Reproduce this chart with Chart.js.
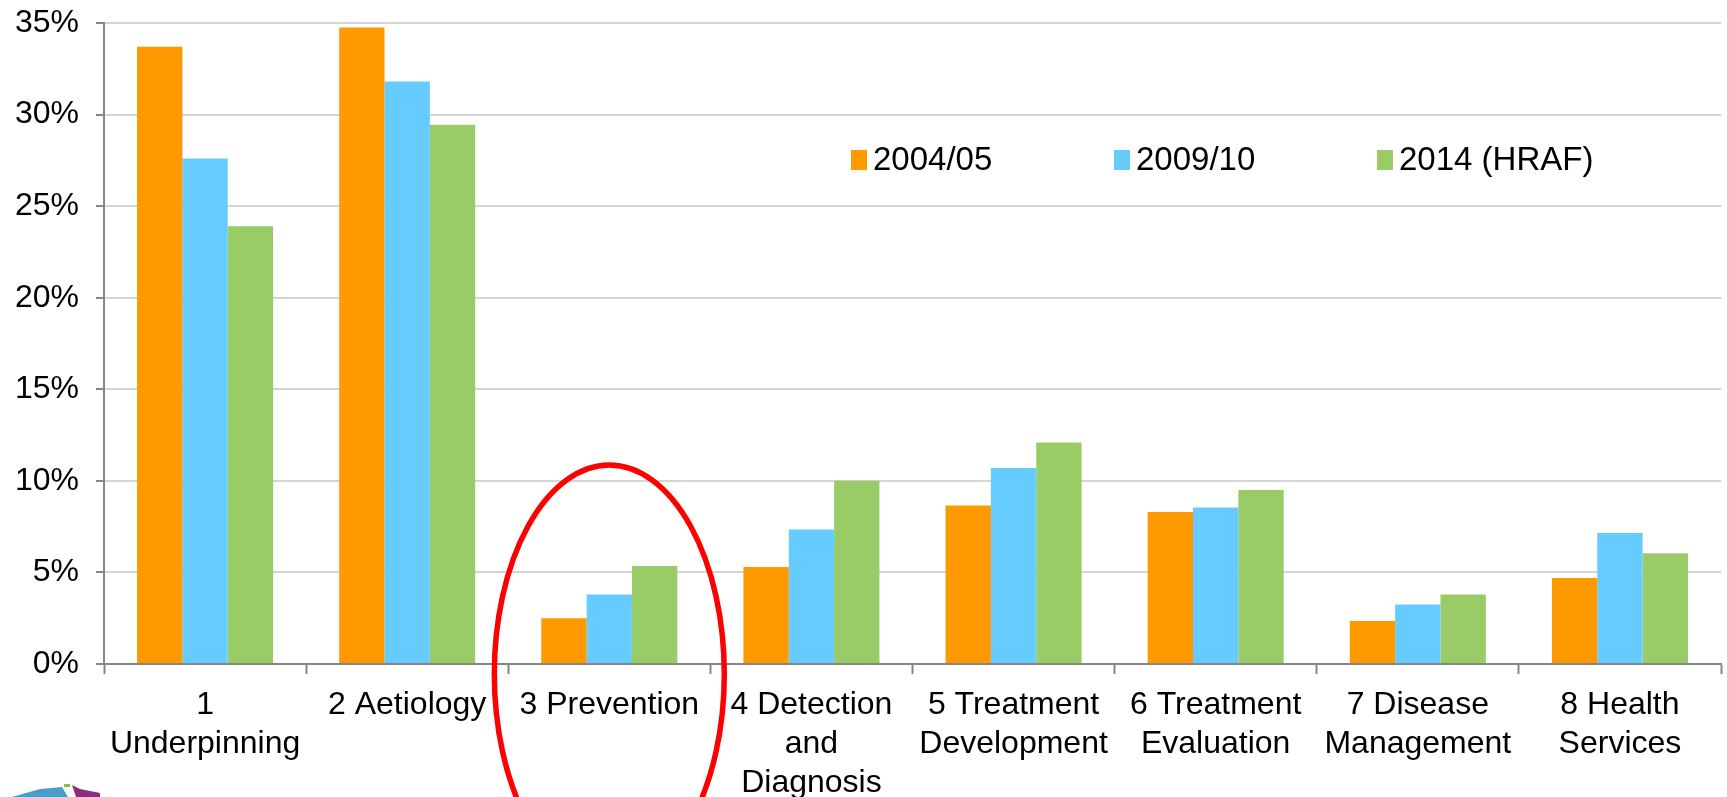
<!DOCTYPE html>
<html>
<head>
<meta charset="utf-8">
<script src="https://cdn.jsdelivr.net/npm/chart.js@4.4.1/dist/chart.umd.min.js"></script>
<style>
  html, body { margin: 0; padding: 0; background: #fff; }
  #wrap { width: 1727px; height: 797px; position: relative; }
</style>
</head>
<body>
<div id="wrap"><canvas id="chart" width="1727" height="797"></canvas></div>
<script>
// categories and series (share of spend, %)
const categories = [
  ["1", "Underpinning"],
  "2 Aetiology",
  "3 Prevention",
  ["4 Detection", "and", "Diagnosis"],
  ["5 Treatment", "Development"],
  ["6 Treatment", "Evaluation"],
  ["7 Disease", "Management"],
  ["8 Health", "Services"]
];
const seriesLabels = ["2004/05", "2009/10", "2014 (HRAF)"];
const values2004 = [33.7, 34.75, 2.5, 5.3, 8.65, 8.3, 2.35, 4.7];
const values2009 = [27.6, 31.8, 3.8, 7.35, 10.7, 8.55, 3.25, 7.15];
const values2014 = [23.9, 29.45, 5.35, 10.0, 12.1, 9.5, 3.8, 6.05];
const yTicks = [0, 5, 10, 15, 20, 25, 30, 35];

const colors = ["#FF9900", "#66CCFF", "#99CC66"];
const fontFamily = "'Liberation Sans', Arial, sans-serif";

// legend drawn inside the plot area, the way the original sits
const insideLegend = {
  id: "insideLegend",
  afterDraw(chart) {
    const ctx = chart.ctx;
    const y = 160;
    const xs = [851, 1114, 1377];
    ctx.save();
    ctx.font = "33px " + fontFamily;
    ctx.textBaseline = "middle";
    chart.data.datasets.forEach((ds, i) => {
      ctx.fillStyle = ds.backgroundColor;
      ctx.fillRect(xs[i], y - 10, 16, 20);
      ctx.fillStyle = "#000";
      ctx.fillText(ds.label, xs[i] + 22, y + 1);
    });
    ctx.restore();
  }
};

// red ring around "3 Prevention" and the bit of logo at the bottom left
const annotations = {
  id: "annotations",
  afterDraw(chart) {
    const ctx = chart.ctx;
    const x = chart.scales.x;
    const cx = x.getPixelForValue(2);
    ctx.save();
    ctx.strokeStyle = "#FF0000";
    ctx.lineWidth = 5.5;
    ctx.beginPath();
    ctx.ellipse(cx, 674, 115, 209, 0, 0, Math.PI * 2);
    ctx.stroke();

    ctx.fillStyle = "#4A9CCB";
    ctx.beginPath();
    ctx.moveTo(12, 797);
    ctx.lineTo(40, 789);
    ctx.lineTo(62, 787);
    ctx.lineTo(68, 797);
    ctx.closePath();
    ctx.fill();
    ctx.fillStyle = "#8CBF3F";
    ctx.fillRect(64, 784, 6, 3);
    ctx.fillStyle = "#8E2D7E";
    ctx.beginPath();
    ctx.moveTo(72, 785);
    ctx.lineTo(80, 789);
    ctx.lineTo(100, 793);
    ctx.lineTo(100, 797);
    ctx.lineTo(76, 797);
    ctx.closePath();
    ctx.fill();
    ctx.restore();
  }
};

const ctx = document.getElementById("chart").getContext("2d");
new Chart(ctx, {
  type: "bar",
  data: {
    labels: categories,
    datasets: [
      { label: seriesLabels[0], data: values2004, backgroundColor: colors[0] },
      { label: seriesLabels[1], data: values2009, backgroundColor: colors[1] },
      { label: seriesLabels[2], data: values2014, backgroundColor: colors[2] }
    ]
  },
  options: {
    responsive: false,
    animation: false,
    devicePixelRatio: 1,
    layout: { padding: { top: 23, right: 6, left: 0, bottom: 0 } },
    datasets: {
      bar: { categoryPercentage: 0.673, barPercentage: 1.0, borderWidth: 0 }
    },
    scales: {
      x: {
        grid: {
          offset: true,
          drawOnChartArea: false,
          drawTicks: true,
          tickLength: 10,
          tickColor: "#868686",
          tickWidth: 2
        },
        border: { color: "#868686", width: 2 },
        ticks: {
          color: "#000",
          font: { family: fontFamily, size: 32, lineHeight: 1.22 },
          maxRotation: 0,
          autoSkip: false,
          padding: 12
        },
        afterFit: function (scale) {
          scale.height = 133;
        }
      },
      y: {
        min: 0,
        max: 35,
        afterBuildTicks: function (scale) {
          scale.ticks = yTicks.map(v => ({ value: v }));
        },
        grid: {
          color: "#D4D4D4",
          lineWidth: 2,
          drawTicks: true,
          tickLength: 8,
          tickColor: "#868686"
        },
        border: { color: "#868686", width: 2 },
        ticks: {
          color: "#000",
          font: { family: fontFamily, size: 32 },
          padding: 17,
          callback: function (value) {
            return value + "%";
          }
        },
        afterFit: function (scale) {
          scale.width = 104;
          scale.paddingTop = 0;
          scale.paddingBottom = 0;
        }
      }
    },
    plugins: {
      legend: { display: false },
      tooltip: { enabled: false }
    }
  },
  plugins: [insideLegend, annotations]
});
</script>
</body>
</html>
